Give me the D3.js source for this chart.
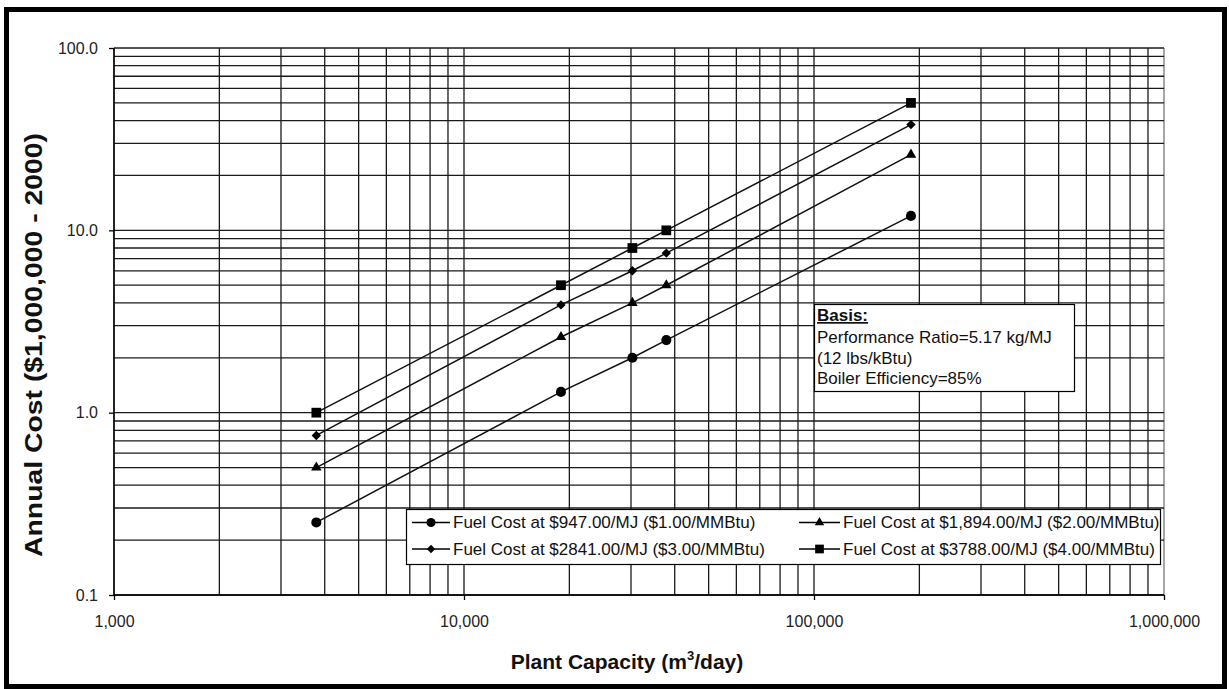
<!DOCTYPE html>
<html><head><meta charset="utf-8">
<script src="https://cdn.jsdelivr.net/npm/d3@7"></script>
<style>body{margin:0;background:#fff} svg{display:block}</style>
</head><body><svg id="chart" width="1229" height="689"></svg>
<script>
// ---- data ----
const capacity = [3785, 18925, 30280, 37850, 189250];
const seriesNames = [
  "Fuel Cost at $947.00/MJ ($1.00/MMBtu)",
  "Fuel Cost at $1,894.00/MJ ($2.00/MMBtu)",
  "Fuel Cost at $2841.00/MJ ($3.00/MMBtu)",
  "Fuel Cost at $3788.00/MJ ($4.00/MMBtu)"
];
const fuel1 = [0.25, 1.3, 2.0, 2.5, 12];
const fuel2 = [0.5, 2.6, 4.0, 5.0, 26];
const fuel3 = [0.75, 3.9, 6.0, 7.5, 38];
const fuel4 = [1.0, 5.0, 8.0, 10.0, 50];
const xTickValues = [1000, 10000, 100000, 1000000];
const xTickLabels = ["1,000", "10,000", "100,000", "1,000,000"];
const yTickValues = [0.1, 1, 10, 100];
const yTickLabels = ["0.1", "1.0", "10.0", "100.0"];
const basisTitle = "Basis:";
const basisLines = ["Performance Ratio=5.17 kg/MJ", "(12 lbs/kBtu)", "Boiler Efficiency=85%"];
const xTitle = "Plant Capacity (m";
const yTitle = "Annual Cost ($1,000,000 - 2000)";

// ---- layout ----
const svg = d3.select("#chart");
const L = 114, R = 1164, T = 48, B = 595;
const FONT = "'Liberation Sans', Arial, sans-serif";
const x = d3.scaleLog().domain([1000, 1000000]).range([L, R]);
const y = d3.scaleLog().domain([0.1, 100]).range([B, T]);

// outer frame
svg.append("rect").attr("x", 6.5).attr("y", 9.5).attr("width", 1218).attr("height", 677)
  .attr("fill", "#fff").attr("stroke", "#000").attr("stroke-width", 5);

// grid
const gridColor = "#1a1a1a";
const xGrid = [];
for (let d = 1000; d < 1000000; d *= 10) for (let k = 1; k <= 9; k++) xGrid.push(d * k);
xGrid.push(1000000);
const yGrid = [];
for (let d = 0.1; d < 99; d *= 10) for (let k = 1; k <= 9; k++) yGrid.push(+(d * k).toPrecision(3));
yGrid.push(100);

const g = svg.append("g");
g.selectAll("line.xg").data(xGrid).join("line").attr("class", "xg")
  .attr("x1", d => x(d)).attr("x2", d => x(d)).attr("y1", T).attr("y2", B)
  .attr("stroke", (d, i) => i === xGrid.length - 1 ? "#777" : gridColor).attr("stroke-width", 1.3);
g.selectAll("line.yg").data(yGrid).join("line").attr("class", "yg")
  .attr("x1", L).attr("x2", R).attr("y1", d => y(d)).attr("y2", d => y(d))
  .attr("stroke", gridColor).attr("stroke-width", 1.3);

// axes
const xAxis = d3.axisBottom(x).tickValues(xTickValues).tickFormat((d, i) => xTickLabels[i]).tickSize(5).tickPadding(16);
const yAxis = d3.axisLeft(y).tickValues(yTickValues).tickFormat((d, i) => yTickLabels[i]).tickSize(5).tickPadding(11);
const gx = svg.append("g").attr("transform", `translate(0,${B})`).call(xAxis);
const gy = svg.append("g").attr("transform", `translate(${L},0)`).call(yAxis);
[gx, gy].forEach(a => {
  a.select(".domain").attr("stroke", "#000").attr("stroke-width", 1.3);
  a.selectAll(".tick line").attr("stroke", "#000").attr("stroke-width", 1.3);
  a.selectAll(".tick text").attr("font-family", FONT).attr("font-size", 16).attr("fill", "#222");
});
gx.select(".domain").attr("d", `M${L},0H${R}`);
gy.select(".domain").attr("d", `M0,${T}V${B}`);

// series
const series = [
  {name: seriesNames[0], values: fuel1, sym: "circle"},
  {name: seriesNames[1], values: fuel2, sym: "triangle"},
  {name: seriesNames[2], values: fuel3, sym: "diamond"},
  {name: seriesNames[3], values: fuel4, sym: "square"}
];
function symPath(type, scale) {
  const s = scale || 1;
  if (type === "circle") return d3.symbol(d3.symbolCircle, 80 * s)();
  if (type === "triangle") return d3.symbol(d3.symbolTriangle, 48 * s)();
  if (type === "diamond") return d3.symbol(d3.symbolSquare, 44 * s)();
  return d3.symbol(d3.symbolSquare, 95 * s)();
}
function symTransform(type, px, py) {
  return `translate(${px},${py})` + (type === "diamond" ? " rotate(45)" : "");
}
const line = d3.line().x(d => x(d[0])).y(d => y(d[1]));
series.forEach(s => {
  const pts = capacity.map((c, i) => [c, s.values[i]]);
  svg.append("path").attr("d", line(pts)).attr("fill", "none").attr("stroke", "#111").attr("stroke-width", 1.5);
  svg.append("g").selectAll("path").data(pts).join("path")
    .attr("d", symPath(s.sym)).attr("transform", d => symTransform(s.sym, x(d[0]), y(d[1])))
    .attr("fill", "#000");
});

// basis box
const bb = svg.append("g");
bb.append("rect").attr("x", 814.5).attr("y", 304.5).attr("width", 260).attr("height", 87)
  .attr("fill", "#fff").attr("stroke", "#000").attr("stroke-width", 1.2);
bb.append("text").attr("x", 817).attr("y", 321).attr("font-family", FONT).attr("font-size", 17)
  .attr("font-weight", "bold").attr("text-decoration", "underline").attr("fill", "#111").text(basisTitle);
bb.selectAll("text.bl").data(basisLines).join("text").attr("class", "bl")
  .attr("x", 817).attr("y", (d, i) => 343 + i * 20.5).attr("font-family", FONT).attr("font-size", 17)
  .attr("fill", "#111").text(d => d);

// legend
const lg = svg.append("g");
lg.append("rect").attr("x", 406.5).attr("y", 509.5).attr("width", 754).attr("height", 55)
  .attr("fill", "#fff").attr("stroke", "#000").attr("stroke-width", 1.2);
const legPos = [
  {lx: 412, ly: 522.5}, {lx: 799, ly: 522.5},
  {lx: 412, ly: 549}, {lx: 799, ly: 549}
];
series.forEach((s, i) => {
  const p = legPos[i];
  const w = i % 2 === 0 ? 38 : 41;
  lg.append("line").attr("x1", p.lx).attr("x2", p.lx + w).attr("y1", p.ly).attr("y2", p.ly)
    .attr("stroke", "#000").attr("stroke-width", 1.5);
  lg.append("path").attr("d", symPath(s.sym, 0.8)).attr("transform", symTransform(s.sym, p.lx + w / 2, p.ly)).attr("fill", "#000");
  lg.append("text").attr("x", p.lx + w + 3).attr("y", p.ly + 5.5).attr("font-family", FONT).attr("font-size", 17)
    .attr("fill", "#111").text(s.name);
});

// axis titles
const xt = svg.append("text").attr("x", 627).attr("y", 669).attr("text-anchor", "middle")
  .attr("font-family", FONT).attr("font-size", 21).attr("font-weight", "bold").attr("fill", "#111");
xt.append("tspan").text(xTitle);
xt.append("tspan").attr("font-size", 13).attr("dy", -9).text("3");
xt.append("tspan").attr("dy", 9).text("/day)");

svg.append("text").attr("transform", `translate(42,345) rotate(-90)`).attr("text-anchor", "middle")
  .attr("font-family", FONT).attr("font-size", 23).attr("font-weight", "bold").attr("fill", "#111")
  .attr("textLength", 424).attr("lengthAdjust", "spacingAndGlyphs").text(yTitle);
</script></body></html>
